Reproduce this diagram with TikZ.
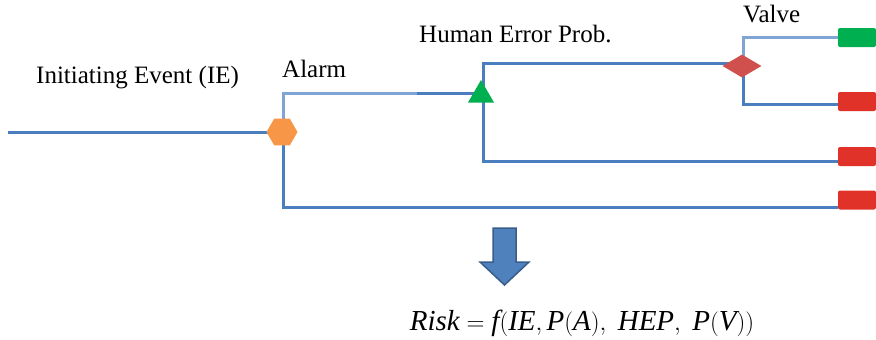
\documentclass[tikz,border=0pt]{standalone}
\usepackage{fontspec}
\setmainfont{Liberation Serif}
\usetikzlibrary{shapes.geometric,backgrounds}
\definecolor{lineblue}{RGB}{74,126,190}
\definecolor{lightblue}{RGB}{128,164,212}
\definecolor{okgreen}{RGB}{0,176,80}
\definecolor{badred}{RGB}{224,50,40}
\definecolor{hexorange}{RGB}{247,150,70}
\definecolor{diared}{RGB}{208,80,77}
\definecolor{arrowfill}{RGB}{79,129,189}
\definecolor{arrowedge}{RGB}{56,93,138}
\tikzset{
  branch/.style={draw=lineblue, line width=3pt},
  lightbranch/.style={draw=lightblue, line width=3pt},
  endbox/.style={rectangle, rounded corners=2pt, minimum width=38pt, minimum height=19pt, inner sep=0pt},
  lbl/.style={inner sep=0pt, anchor=base west, font=\fontsize{25}{28}\selectfont},
}
\begin{document}
\begin{tikzpicture}[x=1pt,y=-1pt]
\useasboundingbox (0,0) rectangle (876,340);
% nodes
\coordinate (s) at (8,132);
\node[regular polygon, regular polygon sides=6, minimum size=31pt, inner sep=0pt, fill=hexorange] (hex) at (282,132) {};
\node[regular polygon, regular polygon sides=3, minimum size=30pt, inner sep=0pt, fill=okgreen] (tri) at (481,95) {};
\node[diamond, minimum width=39pt, minimum height=23pt, inner sep=0pt, fill=diared] (dia) at (742,66) {};
\node[endbox, fill=okgreen] (g1) at (857,37.5) {};
\node[endbox, fill=badred] (r1) at (857,101.5) {};
\node[endbox, fill=badred] (r2) at (857,156.5) {};
\node[endbox, fill=badred] (r3) at (857,200) {};
\coordinate (am) at (417,93);
% labels
\node[lbl] (tie) at (36,83) {Initiating Event (IE)};
\node[lbl] (tal) at (282,77) {Alarm};
\node[lbl] (thep) at (419,42) {Human Error Prob.};
\node[lbl] (tva) at (743,23) {Valve};
% connectors
\begin{pgfonlayer}{background}
\draw[branch] (s) -- (hex.center);
\draw[lightbranch] ([xshift=1pt]hex.center) |- (am);
\draw[branch] (am) -- ([yshift=2pt]tri.center);
\draw[branch] ([xshift=2pt]tri.center) |- ([yshift=3pt]dia.center);
\draw[branch] ([xshift=2pt]tri.center) |- ([yshift=-4.5pt]r2.west);
\draw[lightbranch] ([xshift=1pt]dia.center) |- (g1.west);
\draw[branch] ([xshift=1pt]dia.center) |- ([yshift=-2.5pt]r1.west);
\draw[branch] ([xshift=1pt]hex.center) |- ([yshift=-7pt]r3.west);
\end{pgfonlayer}
% block arrow
\draw[fill=arrowfill, draw=arrowedge, line width=1.5pt, line join=miter]
  (493,228) -- (516,228) -- (516,262) -- (529,262) -- (504.5,285) -- (480,262) -- (493,262) -- cycle;
% formula
\node[inner sep=0pt, anchor=base, font=\fontsize{29}{34}\selectfont] (risk) at (582,330)
  {$\mathit{Risk}=\mathit{f}\bigl(\mathit{IE},\mathit{P}(\mathit{A}),\ \mathit{HEP},\ \mathit{P}(\mathit{V})\bigr)$};
\end{tikzpicture}
\end{document}
